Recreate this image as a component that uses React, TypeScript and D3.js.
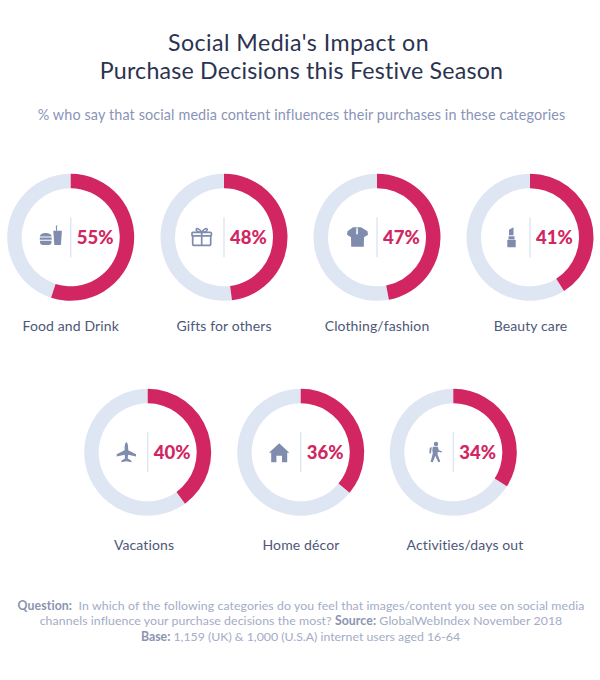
import React, { useEffect } from "react";
import * as d3 from "d3";

const categories = ["Food and Drink", "Gifts for others", "Clothing/fashion", "Beauty care", "Vacations", "Home décor", "Activities/days out"];
const values = [55, 48, 47, 41, 40, 36, 34];
const iconKeys = ["food", "gift", "shirt", "lipstick", "plane", "home", "walk"];
const centerX = [70.7, 224, 377, 530, 147.7, 300.7, 453.3];
const centerY = [237.3, 237.3, 237.3, 237.3, 452.3, 452.3, 452.3];
const labelX = [70.7, 224, 377, 530.5, 144, 301, 465];
const labelY = [331, 331, 331, 331, 550, 550, 550];

const PINK = "#d12661";
const PALE = "#dfe6f3";
const ICON = "#7f8cae";
const FONT = "Lato, sans-serif";

function Icon({ kind }: { kind: string }) {
  switch (kind) {
    case "food":
      return (
        <g fill={ICON}>
          <path d="M-30.7 -0.8 C-30.7 -3 -28 -4.2 -25 -4.2 C-22 -4.2 -19.2 -3 -19.2 -0.8 z" />
          <rect x="-30.9" y="0.2" width="11.9" height="2.2" />
          <path d="M-30.7 3.4 h11.5 v1.3 a3 3 0 0 1 -3 3 h-5.5 a3 3 0 0 1 -3 -3 z" />
          <path d="M-17.4 -6.6 h8.6 l-1 14.3 h-6.6 z" />
          <path d="M-14.6 -6.6 l-0.3 -4.6 l1.2 -0.9 l0.6 0.7 l-0.7 0.6 l0.3 4.2 z" />
        </g>
      );
    case "gift":
      return (
        <g fill="none" stroke={ICON} strokeWidth="1.7" transform="translate(1.2,0)">
          <rect x="-32.5" y="-4.5" width="18" height="12.5" rx="1" />
          <rect x="-33.2" y="-5" width="19.4" height="3.6" fill="#fff" rx="1" />
          <path d="M-23.5 -5 V8" />
          <path d="M-23.5 -5 C-26 -9 -29 -9.6 -29 -7.6 C-29 -6 -26 -5 -23.5 -5 C-21 -5 -18 -6 -18 -7.6 C-18 -9.6 -21 -9 -23.5 -5 z" />
        </g>
      );
    case "shirt":
      return (
        <g>
          <path fill={ICON} d="M-24 -10 L-16 -10 L-9.5 -6 L-9 -2.5 L-13 0 L-13.2 9.5 L-25.8 9.5 L-26 0 L-30 -2.5 L-29.5 -6 z" />
          <path fill="#fff" d="M-20.6 -9.6 h1.3 l0.2 6 l-0.85 1 l-0.85 -1 z" />
        </g>
      );
    case "lipstick":
      return (
        <g fill={ICON} transform="translate(5,0)">
          <path d="M-26 -2 V-7.5 L-21.5 -10 V-2 z" />
          <rect x="-26.5" y="-1" width="6" height="3" />
          <rect x="-27.7" y="2.5" width="8.4" height="7.4" rx="0.5" />
        </g>
      );
    case "plane":
      return (
        <path fill={ICON} d="M-21.3 -10 C-20 -10 -19.5 -6 -19.5 -4 L-19.5 -2 L-11.7 2 L-11.7 4.3 L-19.5 2.5 L-20 6 L-16.3 8.5 L-16.3 10 L-21.3 9 L-26.3 10 L-26.3 8.5 L-22.6 6 L-23.1 2.5 L-31 4.3 L-31 2 L-23.1 -2 L-23.1 -4 C-23.1 -6 -22.6 -10 -21.3 -10 z" />
      );
    case "home":
      return (
        <g fill={ICON}>
          <path d="M-21.5 -9 L-11.4 0.5 L-13.5 0.5 L-13.5 10 L-18.7 10 L-18.7 3.5 L-24.3 3.5 L-24.3 10 L-29.5 10 L-29.5 0.5 L-31.7 0.5 z" />
        </g>
      );
    case "walk":
    default:
      return (
        <g>
          <circle cx="-17.3" cy="-8.3" r="2.2" fill={ICON} />
          <path fill={ICON} d="M-20.5 -5.5 L-15.5 -5.5 L-14.5 -2 L-11.4 -1 L-11.6 0.2 L-15.5 -0.5 L-15.8 2 L-13 9.5 L-15 10 L-18 3.5 L-20.5 10 L-22.7 9.5 L-20.5 1 L-21 -2 z" />
          <path fill={ICON} d="M-21.5 -5 L-23.5 -4.5 L-24 1 L-22.4 1.3 z" />
        </g>
      );
  }
}

export default function App() {
  useEffect(() => {
    document.body.style.margin = "0";
  }, []);
  const arc = d3.arc<d3.PieArcDatum<number>>().innerRadius(49).outerRadius(63.5);
  const pie = d3.pie<number>().sort(null).startAngle(0).endAngle(2 * Math.PI);
  return (
    <svg width={600} height={680} style={{ display: "block", position: "absolute", left: 0, top: 0, background: "#fff" }} fontFamily={FONT}>
      <g textAnchor="middle" fill="#2b3350" fontSize="23.2">
        <text x={298.5} y={50.5} letterSpacing="0.45">Social Media's Impact on</text>
        <text x={301.5} y={79} letterSpacing="0.2">Purchase Decisions this Festive Season</text>
      </g>
      <text x={301.5} y={120} textAnchor="middle" fill="#8a94b8" fontSize="14.4" letterSpacing="0.12">
        % who say that social media content influences their purchases in these categories
      </text>
      {categories.map((name, i) => {
        const slices = pie([values[i], 100 - values[i]]);
        return (
          <g key={name}>
            <g transform={`translate(${centerX[i]},${centerY[i]})`}>
              <path d={arc(slices[1]) ?? ""} fill={PALE} />
              <path d={arc(slices[0]) ?? ""} fill={PINK} />
              <line x1={0} x2={0} y1={-20} y2={20} stroke={PALE} strokeWidth={1.5} />
              <Icon kind={iconKeys[i]} />
              <text x={6} y={6.6} fill={PINK} fontSize="18.5" fontWeight="900">{values[i]}%</text>
            </g>
            <text x={labelX[i]} y={labelY[i]} textAnchor="middle" fill="#4d5779" fontSize="14" letterSpacing="0.12">{name}</text>
          </g>
        );
      })}
      <g textAnchor="middle" fill="#a3acc6" fontSize="12.3">
        <text x={301} y={610} letterSpacing="0.1"><tspan fontWeight="700" fill="#8a94b0">Question:</tspan>{"\u00a0\u00a0In which of the following categories do you feel that images/content you see on social media"}</text>
        <text x={301} y={625} letterSpacing="0.08">channels influence your purchase decisions the most? <tspan fontWeight="700" fill="#8a94b0">Source:</tspan> GlobalWebIndex November 2018</text>
        <text x={300.5} y={641}><tspan fontWeight="700" fill="#8a94b0">Base:</tspan> 1,159 (UK) &amp; 1,000 (U.S.A) internet users aged 16-64</text>
      </g>
    </svg>
  );
}
